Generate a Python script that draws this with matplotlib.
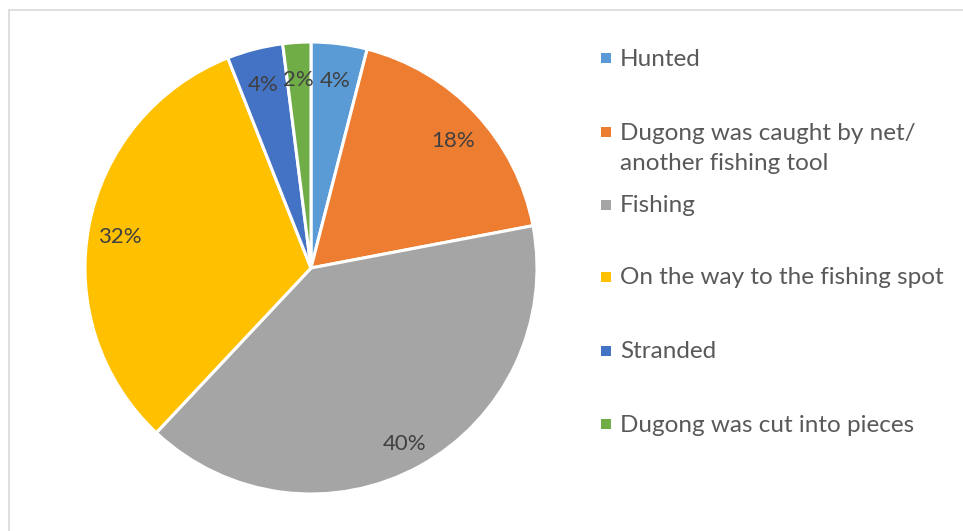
import matplotlib.pyplot as plt
from matplotlib.patches import Rectangle

plt.rcParams['font.family'] = ['Lato', 'DejaVu Sans']

# Causes of dugong deaths (share of cases, %)
causes = [
    "Hunted",
    "Dugong was caught by net/\nanother fishing tool",
    "Fishing",
    "On the way to the fishing spot",
    "Stranded",
    "Dugong was cut into pieces",
]
shares = [4, 18, 40, 32, 4, 2]
colors = ["#5B9BD5", "#ED7D31", "#A5A5A5", "#FFC000", "#4472C4", "#70AD47"]

W, H = 963, 531
fig = plt.figure(figsize=(W / 100, H / 100), dpi=100)

# light chart-area border
fig.patches.append(Rectangle((8.5 / W, -0.1), 1.2, 1.1 - 9.5 / H,
                             transform=fig.transFigure, fill=False,
                             edgecolor="#D9D9D9", linewidth=1.2))

# pie
cx, cy, r = 311, 268, 226
ax = fig.add_axes([(cx - r) / W, (H - cy - r) / H, 2 * r / W, 2 * r / H])
wedges, texts, autotexts = ax.pie(
    shares, colors=colors, startangle=90, counterclock=False,
    autopct="%d%%", pctdistance=0.86,
    wedgeprops=dict(edgecolor="white", linewidth=2.2),
    textprops=dict(color="#404040", fontsize=16),
)
# nudge the percentage labels down a little
for t in autotexts:
    x, y = t.get_position()
    t.set_position((x, y - 0.025))
ax.set_xlim(-1, 1)
ax.set_ylim(-1, 1)
ax.set_aspect("equal")
ax.axis("off")

# legend on the right
legend_y = [59, 133, 206, 278, 352, 425]
line_step = 30
for label, color, y in zip(causes, colors, legend_y):
    fig.patches.append(Rectangle((601 / W, 1 - (y + 4) / H), 10 / W, 10 / H,
                                 transform=fig.transFigure,
                                 facecolor=color, edgecolor="none"))
    for i, line in enumerate(label.split("\n")):
        fig.text(620 / W, 1 - (y + i * line_step) / H, line,
                 ha="left", va="center", fontsize=17.5, color="#595959",
                 transform=fig.transFigure)

plt.savefig("out.png", dpi=100)
